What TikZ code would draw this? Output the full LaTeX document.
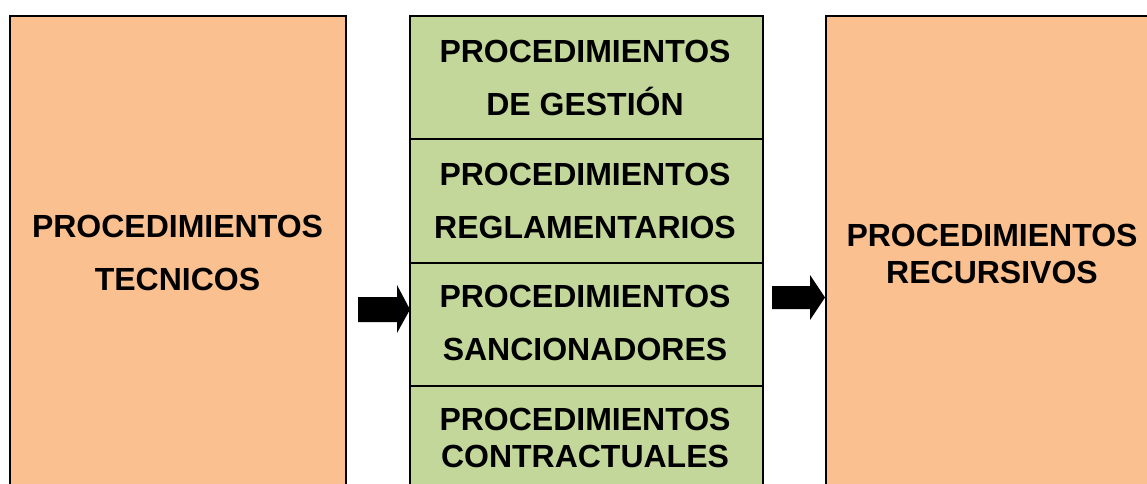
\documentclass[tikz,border=0pt]{standalone}
\usepackage{fontspec}
\setmainfont{Liberation Sans}
\definecolor{orangefill}{HTML}{FAC090}
\definecolor{greenfill}{HTML}{C4D79B}
\begin{document}
\begin{tikzpicture}[x=1pt,y=-1pt,
  box/.style={draw=black,line width=2pt,inner sep=0pt,anchor=north west},
  obox/.style={box,fill=orangefill},
  gbox/.style={box,fill=greenfill},
  lbl/.style={font=\fontsize{32}{52.5}\selectfont\bfseries,align=center,anchor=base,inner sep=0pt},
  lbltight/.style={lbl,font=\fontsize{32}{36.5}\selectfont\bfseries},
  blockarrow/.style={fill=black,draw=none}]
\useasboundingbox (0,0) rectangle (1147,483);
\clip (0,0) rectangle (1147,483);
% boxes
\node[obox,minimum width=336pt,minimum height=520pt] (left) at (9,15) {};
\node[obox,minimum width=340pt,minimum height=520pt] (right) at (825,15) {};
\node[gbox,minimum width=353pt,minimum height=123pt] (m1) at (408.5,15) {};
\node[gbox,minimum width=353pt,minimum height=124pt] (m2) at (408.5,138) {};
\node[gbox,minimum width=353pt,minimum height=123pt] (m3) at (408.5,262) {};
\node[gbox,minimum width=353pt,minimum height=140pt] (m4) at (408.5,385) {};
% labels (anchored at the baseline of the last line)
\node[lbl] (tleft) at (177.5,290) {PROCEDIMIENTOS\\TECNICOS};
\node[lbl] (t1) at (585,115) {PROCEDIMIENTOS\\DE GESTIÓN};
\node[lbl] (t2) at (585,238) {PROCEDIMIENTOS\\REGLAMENTARIOS};
\node[lbl] (t3) at (585,360) {PROCEDIMIENTOS\\SANCIONADORES};
\node[lbltight] (t4) at (585,467) {PROCEDIMIENTOS\\CONTRACTUALES};
\node[lbltight] (tright) at (992,283) {PROCEDIMIENTOS\\RECURSIVOS};
% block arrows
\fill[blockarrow] (358,297) -- (397,297) -- (397,285) -- (410,309.5) -- (397,333) -- (397,322) -- (358,322) -- cycle;
\fill[blockarrow] (772,286) -- (810,286) -- (810,275) -- (825,297.5) -- (810,320) -- (810,309) -- (772,309) -- cycle;
\end{tikzpicture}
\end{document}
